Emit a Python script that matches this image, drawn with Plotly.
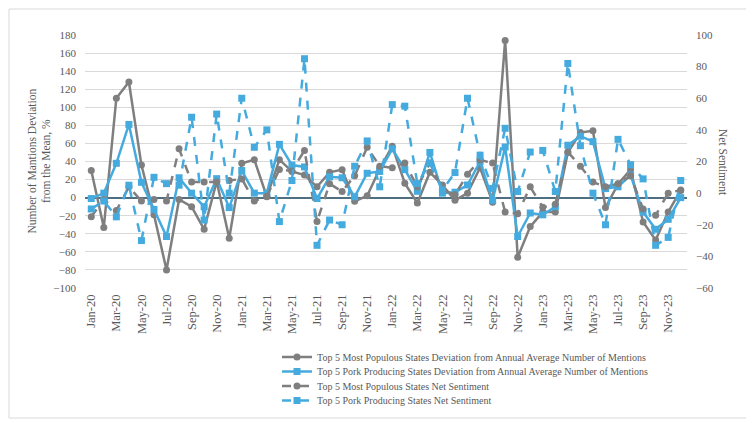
import plotly.graph_objects as go

months = ["Jan-20","Feb-20","Mar-20","Apr-20","May-20","Jun-20","Jul-20","Aug-20","Sep-20","Oct-20","Nov-20","Dec-20",
          "Jan-21","Feb-21","Mar-21","Apr-21","May-21","Jun-21","Jul-21","Aug-21","Sep-21","Oct-21","Nov-21","Dec-21",
          "Jan-22","Feb-22","Mar-22","Apr-22","May-22","Jun-22","Jul-22","Aug-22","Sep-22","Oct-22","Nov-22","Dec-22",
          "Jan-23","Feb-23","Mar-23","Apr-23","May-23","Jun-23","Jul-23","Aug-23","Sep-23","Oct-23","Nov-23","Dec-23"]

populous_dev = [30, -33, 110, 128, 36, -19, -80, -2, -10, -35, 18, -45,
                38, 42, 1, 42, 29, 25, 12, 28, 31, -4, 2, 32,
                57, 16, -6, 28, 14, -3, 5, 33, -5, 174, -66, -32,
                -16, -16, 50, 72, 74, -11, 15, 31, -27, -47, -16, 8]

pork_dev = [-1, 5, 38, 81, 17, -13, -43, 22, 5, -10, 21, -11,
            30, 5, 5, 59, 36, 34, -1, 23, 22, 1, 27, 29,
            54, 31, 7, 50, 5, 6, 14, 40, -3, 56, -43, -17,
            -19, -10, 58, 68, 62, 10, 12, 25, -16, -35, -24, 0]

populous_sent = [-15, -4, -11, 4, -5, -4, -5, 28, 7, 7, 7, 8,
                 9, -5, -2, 15, 14, 27, -18, 6, 1, 11, 29, 17,
                 16, 19, 4, 19, 2, -1, 12, 21, 19, -12, -13, 4,
                 -9, -7, 26, 17, 7, 4, 6, 11, -10, -14, 0, 2]

pork_sent = [-10, -5, -15, 5, -30, 10, 6, 5, 48, -17, 50, 0,
             60, 29, 40, -18, 8, 85, -33, -17, -20, 17, 33, 4,
             56, 55, 6, 19, 2, 13, 60, 24, 3, 41, 1, 26,
             27, 1, 82, 30, 0, -20, 34, 18, 9, -33, -28, 8]

series_names = [
    "Top 5 Most Populous States Deviation from Annual Average Number of Mentions",
    "Top 5 Pork Producing States Deviation from Annual Average Number of Mentions",
    "Top 5 Most Populous States Net Sentiment",
    "Top 5 Pork Producing States Net Sentiment",
]

left_ticks = list(range(-100, 181, 20))
right_ticks = list(range(-60, 101, 20))
x_ticks = months[::2]

GRAY = "#7f7f7f"
BLUE = "#45aade"
FONT = "Liberation Serif"
TXT = "#595959"

# page body has an 8px default margin; figure sized so that it fills the 754x423 window
OFF = 8
W, H = 754 - OFF, 423 - OFF
L, T = 85 - OFF, 35 - OFF
R = W - (687 - OFF)
B = H - (288 - OFF)
pw, ph = W - L - R, H - T - B


def px(sx):
    return (sx - 85) / pw


def py(sy):
    return 1 - (sy - 35) / ph


series = [
    (populous_dev, "y", GRAY, "solid", "circle"),
    (pork_dev, "y", BLUE, "solid", "square"),
    (populous_sent, "y2", GRAY, "dash", "circle"),
    (pork_sent, "y2", BLUE, "dash", "square"),
]
legend_keys = ["legend", "legend2", "legend3", "legend4"]
legend_rows = [357, 371.5, 386, 400.5]

fig = go.Figure()
for (vals, yax, col, dash, sym), name, lk in zip(series, series_names, legend_keys):
    fig.add_trace(go.Scatter(
        x=months, y=vals, mode="lines+markers", yaxis=yax, name=name, legend=lk,
        line=dict(color=col, width=2.5, dash=dash),
        marker=dict(symbol=sym, size=7, color=col)))

legend_layout = {}
for lk, yc in zip(legend_keys, legend_rows):
    legend_layout[lk] = dict(x=px(277), xanchor="left", y=py(yc), yanchor="middle",
                             font=dict(family=FONT, size=10, color=TXT),
                             bgcolor="rgba(0,0,0,0)", itemwidth=30)

fig.update_layout(
    width=W, height=H,
    margin=dict(l=L, r=R, t=T, b=B, autoexpand=False),
    paper_bgcolor="white", plot_bgcolor="white",
    font=dict(family=FONT, size=11, color=TXT),
    showlegend=True,
    **legend_layout,
    xaxis=dict(type="category", categoryorder="array", categoryarray=months,
               range=[-0.5, len(months) - 0.5], tickmode="array", tickvals=x_ticks, ticktext=x_ticks,
               tickangle=-90, showgrid=False, showline=False, zeroline=False, ticks="",
               tickfont=dict(family=FONT, size=12.5, color=TXT), ticklabelstandoff=3),
    yaxis=dict(range=[-100, 180], tickmode="array", tickvals=left_ticks,
               showgrid=True, gridcolor="#d9d9d9", gridwidth=1,
               zeroline=True, zerolinecolor="#4f6e80", zerolinewidth=1.5,
               showline=False, ticks="", tickfont=dict(family=FONT, size=11, color=TXT),
               ticklabelstandoff=8),
    yaxis2=dict(range=[-60, 100], tickmode="array", tickvals=right_ticks, overlaying="y", side="right",
                showgrid=False, zeroline=False, showline=False, ticks="",
                tickfont=dict(family=FONT, size=11, color=TXT), ticklabelstandoff=8),
    annotations=[
        dict(text="Number of Mantions Deviation<br>from the Mean, %", xref="paper", yref="paper",
             x=px(39), y=0.5, xanchor="center", yanchor="middle", textangle=-90, showarrow=False,
             font=dict(family=FONT, size=11.5, color=TXT)),
        dict(text="Net Sentiment", xref="paper", yref="paper",
             x=px(723), y=py(162), xanchor="center", yanchor="middle", textangle=90,
             showarrow=False, font=dict(family=FONT, size=11.5, color=TXT)),
    ],
    shapes=[
        dict(type="rect", xref="paper", yref="paper",
             x0=px(9), x1=px(749), y0=py(418), y1=py(9),
             line=dict(color="#d9d9d9", width=1), fillcolor="rgba(0,0,0,0)", layer="below"),
    ],
)

fig.write_html("out.html")
